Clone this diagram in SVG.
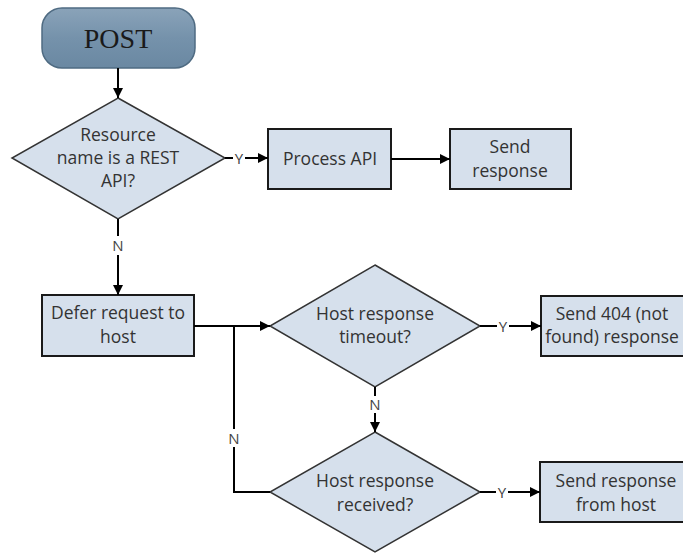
<svg xmlns="http://www.w3.org/2000/svg" width="683" height="553" viewBox="0 0 683 553">
  <defs>
    <linearGradient id="startFill" x1="0" y1="0" x2="0" y2="1">
      <stop offset="0" stop-color="#8aa3b9"/>
      <stop offset="0.5" stop-color="#7592ab"/>
      <stop offset="1" stop-color="#6a88a2"/>
    </linearGradient>
    <marker id="arrow" viewBox="0 0 10 10" refX="10" refY="5" markerWidth="10" markerHeight="10" markerUnits="userSpaceOnUse" orient="auto">
      <path d="M0,0 L10,5 L0,10 Z" fill="#000"/>
    </marker>
  </defs>
  <style>
    .box { fill: #d6e0ec; stroke: #1a1a1a; stroke-width: 2; }
    .dec { fill: #d6e0ec; stroke: #333; stroke-width: 1.5; }
    .lbl { font-family: "Open Sans", "Liberation Sans", sans-serif; font-size: 17.5px; fill: #333; text-anchor: middle; }
    .yn { font-family: "Open Sans", "Liberation Sans", sans-serif; font-size: 15px; fill: #444; text-anchor: middle; }
    .ln { fill: none; stroke: #000; stroke-width: 2; }
    .arr { fill: none; stroke: #000; stroke-width: 2; marker-end: url(#arrow); }
  </style>
  <rect width="683" height="553" fill="#fff"/>

  <g id="post">
    <rect x="42" y="8" width="153" height="60" rx="20" ry="20" fill="url(#startFill)" stroke="#4f6b82" stroke-width="1.5"/>
    <text x="118" y="48" font-family="Liberation Serif, serif" font-size="28" fill="#1a1a1a" text-anchor="middle">POST</text>
  </g>

  <g id="is-rest-api">
    <polygon class="dec" points="118,98 225,158 118,219 12,158"/>
    <text class="lbl" x="118" y="141">Resource</text>
    <text class="lbl" x="118" y="164">name is a REST</text>
    <text class="lbl" x="118" y="187">API?</text>
  </g>

  <g id="process-api">
    <rect class="box" x="268" y="129" width="123" height="60"/>
    <text class="lbl" x="330" y="165">Process API</text>
  </g>

  <g id="send-response">
    <rect class="box" x="450" y="129" width="121" height="60"/>
    <text class="lbl" x="510" y="153">Send</text>
    <text class="lbl" x="510" y="177">response</text>
  </g>

  <g id="defer-request">
    <rect class="box" x="42" y="295" width="152" height="61"/>
    <text class="lbl" x="118" y="319">Defer request to</text>
    <text class="lbl" x="118" y="343">host</text>
  </g>

  <g id="host-timeout">
    <polygon class="dec" points="375,265 480,326 375,387 270,326"/>
    <text class="lbl" x="375" y="320">Host response</text>
    <text class="lbl" x="375" y="343">timeout?</text>
  </g>

  <g id="send-404">
    <rect class="box" x="541" y="296" width="144" height="60"/>
    <text class="lbl" x="612" y="320">Send 404 (not</text>
    <text class="lbl" x="612" y="343">found) response</text>
  </g>

  <g id="host-received">
    <polygon class="dec" points="375,432 480,492 375,552 270,492"/>
    <text class="lbl" x="375" y="487">Host response</text>
    <text class="lbl" x="375" y="511">received?</text>
  </g>

  <g id="send-from-host">
    <rect class="box" x="540" y="462" width="150" height="60"/>
    <text class="lbl" x="616" y="487">Send response</text>
    <text class="lbl" x="616" y="511">from host</text>
  </g>

  <g id="connectors">
    <path class="arr" d="M118,68 V98"/>
    <!-- REST API? yes -->
    <path class="ln" d="M225,158 H233"/>
    <text class="yn" x="239" y="164">Y</text>
    <path class="arr" d="M245,158 H268"/>
    <path class="arr" d="M391,159 H450"/>
    <!-- REST API? no -->
    <path class="ln" d="M118,219 V236"/>
    <text class="yn" x="118" y="251">N</text>
    <path class="arr" d="M118,255 V295"/>
    <!-- defer into timeout check -->
    <path class="arr" d="M194,326 H270"/>
    <!-- timeout? yes -->
    <path class="ln" d="M480,326 H497"/>
    <text class="yn" x="503" y="332">Y</text>
    <path class="arr" d="M509,326 H541"/>
    <!-- timeout? no -->
    <path class="ln" d="M375,387 V396"/>
    <text class="yn" x="375" y="410">N</text>
    <path class="arr" d="M375,413 V432"/>
    <!-- received? yes -->
    <path class="ln" d="M480,492 H496"/>
    <text class="yn" x="502" y="498">Y</text>
    <path class="arr" d="M508,492 H540"/>
    <!-- received? no, loop back -->
    <path class="ln" d="M270,492 H234 V447"/>
    <text class="yn" x="234" y="444">N</text>
    <path class="ln" d="M234,429 V326"/>
  </g>
</svg>
